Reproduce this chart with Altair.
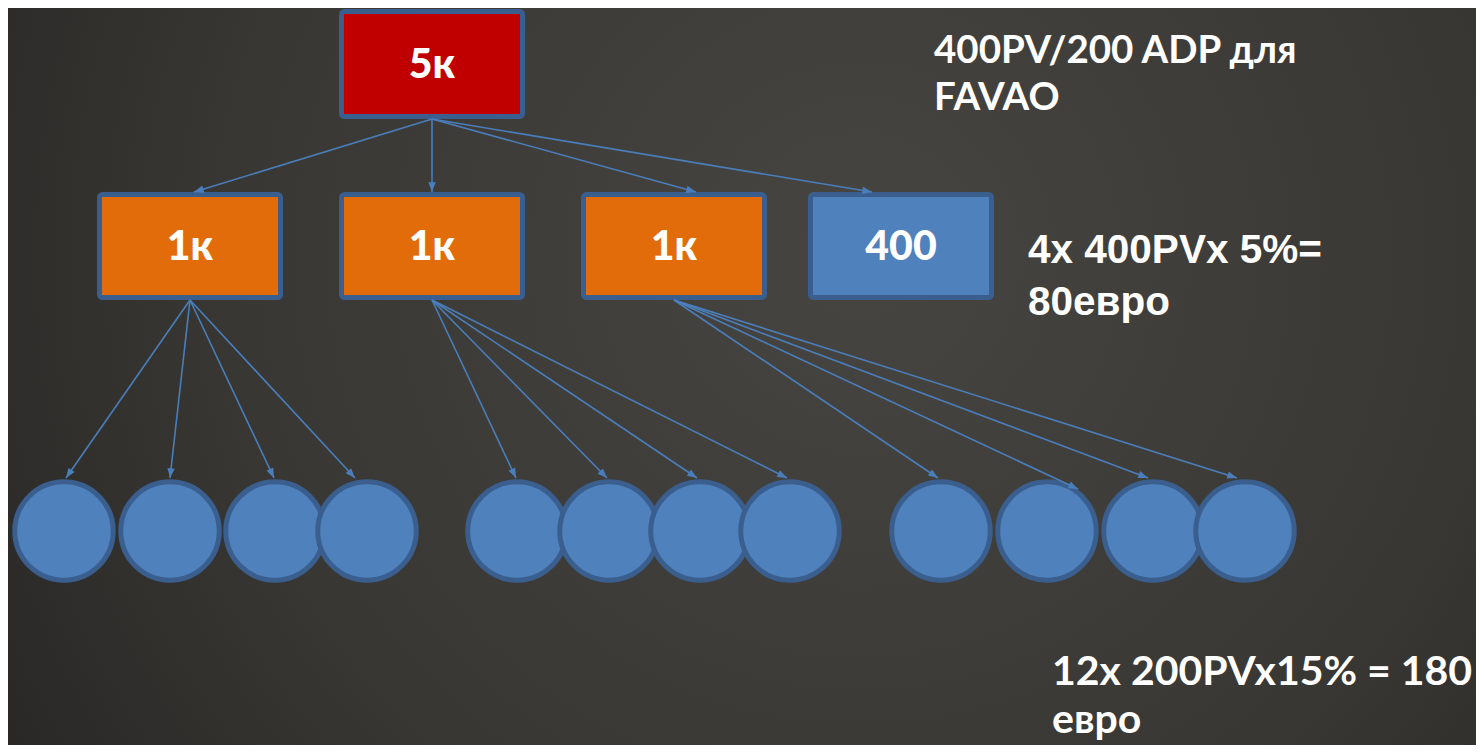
import altair as alt
import pandas as pd
import numpy as np

# ---- diagram data (layout coordinates) ----
box_labels = ["5к", "1к", "1к", "1к", "400"]
box_kind = ["top", "mid", "mid", "mid", "leaf"]
box_cx = [432, 190, 432, 674, 901]
box_cy = [64, 246, 246, 246, 246]
box_halfw = [90.5, 90.5, 90.5, 90.5, 90.5]
box_halfh = [52.5, 51.5, 51.5, 51.5, 51.5]

circle_cx = [64, 170, 275, 367, 517, 609, 700, 790, 941, 1047, 1153, 1245]
circle_cy = [531] * 12

edge_x0 = [432, 432, 432, 432,
           190, 190, 190, 190,
           432, 432, 432, 432,
           674, 674, 674, 674]
edge_y0 = [119, 119, 119, 119] + [300] * 12
edge_x1 = [194, 432, 696, 872,
           66, 170, 274, 355,
           516, 607, 697, 787,
           938, 1078, 1148, 1237]
edge_y1 = [192, 192, 192, 192,
           478, 478, 478, 478,
           478, 478, 478, 478,
           478, 489, 478, 478]

note_text_a = ["400PV/200 ADP для", "FAVAO", "12x 200PVx15% = 180", "евро"]
note_x_a = [934, 934, 1052, 1052]
note_y_a = [63, 110, 685, 733]
note_size_a = [38.5, 38.5, 41, 41]

note_text_b = ["4x 400PVx 5%=", "80евро"]
note_x_b = [1028, 1028]
note_y_b = [263, 315]
note_size_b = [40.5, 40.5]

# ---- tables ----
boxes = pd.DataFrame({
    "label": box_labels, "kind": box_kind,
    "cx": box_cx, "cy": box_cy,
})
boxes["x0"] = boxes["cx"] - np.array(box_halfw)
boxes["x1"] = boxes["cx"] + np.array(box_halfw)
boxes["y0"] = boxes["cy"] - np.array(box_halfh)
boxes["y1"] = boxes["cy"] + np.array(box_halfh)

circles = pd.DataFrame({"cx": circle_cx, "cy": circle_cy})

edges = pd.DataFrame({"x0": edge_x0, "y0": edge_y0, "x1": edge_x1, "y1": edge_y1})
dx = edges["x1"] - edges["x0"]
dy = edges["y1"] - edges["y0"]
edges["ang"] = (np.degrees(np.arctan2(dx, -dy)) + 360) % 360

notes_a = pd.DataFrame({"t": note_text_a, "x": note_x_a, "y": note_y_a, "s": note_size_a})
notes_b = pd.DataFrame({"t": note_text_b, "x": note_x_b, "y": note_y_b, "s": note_size_b})

W, H = 1468, 737
xs = alt.Scale(domain=[8, 1476], nice=False, zero=False)
ys = alt.Scale(domain=[745, 8], nice=False, zero=False)

def X(f):
    return alt.X(f, type="quantitative", scale=xs, axis=None)

def Y(f):
    return alt.Y(f, type="quantitative", scale=ys, axis=None)

bg = alt.Chart(pd.DataFrame({"a": [0]})).mark_rect(
    color=alt.Gradient(
        gradient="radial",
        stops=[alt.GradientStop(offset=0, color="#474541"),
               alt.GradientStop(offset=0.55, color="#383733"),
               alt.GradientStop(offset=1, color="#222120")],
        x1=0.58, y1=0.42, x2=0.58, y2=0.42, r1=0, r2=0.78,
    )
).encode(x=alt.value(0), x2=alt.value(W), y=alt.value(0), y2=alt.value(H))

box_layer = alt.Chart(boxes).mark_rect(
    stroke="#3a5f8e", strokeWidth=5, cornerRadius=3
).encode(
    x=X("x0"), x2="x1", y=Y("y0"), y2="y1",
    color=alt.Color("kind:N", legend=None,
                    scale=alt.Scale(domain=["top", "mid", "leaf"],
                                    range=["#c00000", "#e36c0a", "#4f81bd"])),
)

box_text = alt.Chart(boxes).mark_text(
    font="Lato", fontWeight=900, fontSize=41, color="white",
    align="center", baseline="middle", dy=2,
).encode(x=X("cx"), y=Y("cy"), text="label:N")

circle_layer = alt.Chart(circles).mark_point(
    shape="circle", filled=True, fill="#4f81bd", stroke="#3a5f8e",
    strokeWidth=5, size=9700, opacity=1,
).encode(x=X("cx"), y=Y("cy"))

edge_layer = alt.Chart(edges).mark_rule(color="#4a7ebb", strokeWidth=1.6).encode(
    x=X("x0"), y=Y("y0"), x2="x1", y2="y1"
)

head_layer = alt.Chart(edges).mark_point(
    shape="M0,0 L-0.38,1 L0.38,1 Z", filled=True, color="#4a7ebb",
    size=380, opacity=1,
).encode(x=X("x1"), y=Y("y1"), angle=alt.Angle("ang:Q", scale=None))

notes_a_layer = alt.Chart(notes_a).mark_text(
    font="Lato", fontWeight="bold", color="white", align="left", baseline="alphabetic"
).encode(x=X("x"), y=Y("y"), text="t:N", size=alt.Size("s:Q", scale=None))

notes_b_layer = alt.Chart(notes_b).mark_text(
    font="Liberation Sans", fontWeight="bold", color="white", align="left", baseline="alphabetic"
).encode(x=X("x"), y=Y("y"), text="t:N", size=alt.Size("s:Q", scale=None))

chart = alt.layer(
    bg, box_layer, box_text, circle_layer, edge_layer, head_layer,
    notes_a_layer, notes_b_layer
).properties(
    width=W, height=H, padding=0, autosize=alt.AutoSizeParams(type="none"),
    background="#33322f",
).configure_view(stroke=None)

chart.save("out.html", embed_options={"renderer": "svg", "actions": False})
